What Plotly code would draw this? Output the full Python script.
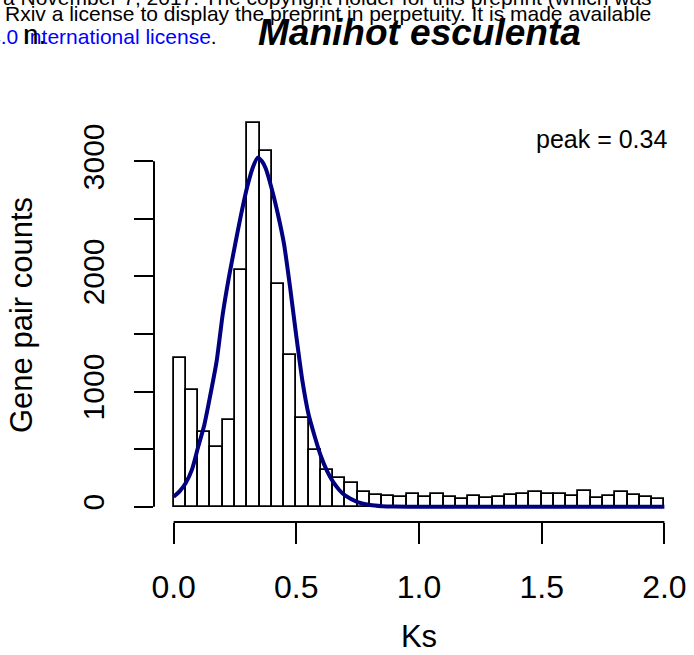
import plotly.graph_objects as go

# ---- data ----
bin_start = [0.00, 0.05, 0.10, 0.15, 0.20, 0.25, 0.30, 0.35, 0.40, 0.45,
             0.50, 0.55, 0.60, 0.65, 0.70, 0.75, 0.80, 0.85, 0.90, 0.95,
             1.00, 1.05, 1.10, 1.15, 1.20, 1.25, 1.30, 1.35, 1.40, 1.45,
             1.50, 1.55, 1.60, 1.65, 1.70, 1.75, 1.80, 1.85, 1.90, 1.95]
bin_width = 0.05
counts = [1292, 1017, 650, 517, 751, 2058, 3330, 3093, 1931, 1315,
          772, 491, 315, 245, 202, 130, 98, 90, 87, 107,
          83, 109, 87, 69, 92, 75, 87, 101, 113, 124,
          107, 107, 92, 135, 78, 92, 124, 98, 83, 69]

curve_x = [0.0, 0.025, 0.05, 0.075, 0.1, 0.125, 0.15, 0.175, 0.2, 0.225,
           0.25, 0.275, 0.3, 0.325, 0.343, 0.36, 0.375, 0.4, 0.425, 0.45,
           0.475, 0.5, 0.525, 0.55, 0.575, 0.6, 0.625, 0.65, 0.675, 0.7,
           0.75, 0.8, 0.85, 0.9, 1.0, 1.5, 2.0]
curve_y = [85, 135, 208, 324, 520, 710, 975, 1260, 1670, 1990,
           2270, 2540, 2780, 2960, 3032, 3000, 2940, 2760, 2540, 2280,
           1900, 1480, 1090, 800, 610, 440, 310, 215, 145, 95,
           40, 14, 4, 1, 0, 0, 0]

x_ticks = [0.0, 0.5, 1.0, 1.5, 2.0]
x_ticktext = ["0.0", "0.5", "1.0", "1.5", "2.0"]
y_ticks = [0, 500, 1000, 1500, 2000, 2500, 3000]
y_ticktext = ["0", "", "1000", "", "2000", "", "3000"]

title = "Manihot esculenta"
peak_label = "peak = 0.34"
header1 = "a November 7, 2017. The copyright holder for this preprint (which was"
header2 = "Rxiv a license to display the preprint in perpetuity. It is made available"
header3 = '<span style="color:#0000ff">4.0 International license</span>.'

# ---- layout geometry ----
W, H = 694, 655
ML, MR, MT, MB = 154, 10, 108, 133
PW, PH = W - ML - MR, H - MT - MB
FONT = "Liberation Sans, Arial, Helvetica, sans-serif"
HEAD = 21

xlo, xhi = 0.0, 2.0
xpad = 0.04 * (xhi - xlo)
xr = [xlo - xpad, xhi + xpad]
ymax = max(counts)
yr = [-0.04 * ymax, 1.04 * ymax]


def px(xpix):
    return (xpix - ML) / PW


def pyb(baseline, size):
    # paper y for the bottom of a text box whose baseline is at pixel `baseline`
    return (H - MB - (baseline + 0.32 * size)) / PH


def dx(v):
    return (v - xr[0]) / (xr[1] - xr[0])


def dy(v):
    return (v - yr[0]) / (yr[1] - yr[0])


centers = [b + bin_width / 2 for b in bin_start]

fig = go.Figure()
fig.add_trace(go.Bar(
    x=centers, y=counts, width=bin_width,
    marker=dict(color="white", line=dict(color="black", width=1.8)),
    showlegend=False, hoverinfo="skip"))
fig.add_trace(go.Scatter(
    x=curve_x, y=curve_y, mode="lines",
    line=dict(color="#000080", width=4, shape="spline", smoothing=0.6),
    showlegend=False, hoverinfo="skip"))

fig.update_xaxes(range=xr, showgrid=False, zeroline=False, showline=False,
                 tickmode="array", tickvals=x_ticks, ticktext=x_ticktext,
                 ticks="outside", ticklen=21, tickwidth=2, tickcolor="black",
                 tickfont=dict(family=FONT, size=32, color="black"),
                 ticklabelstandoff=16,
                 title=dict(text="Ks", font=dict(family=FONT, size=31, color="black"),
                            standoff=20))
fig.update_yaxes(range=yr, showgrid=False, zeroline=False, showline=False,
                 tickmode="array", tickvals=y_ticks, ticktext=y_ticktext,
                 ticks="outside", ticklen=19, tickwidth=2, tickcolor="black",
                 tickangle=-90, tickfont=dict(family=FONT, size=30, color="black"),
                 ticklabelstandoff=18,
                 title=dict(text="Gene pair counts",
                            font=dict(family=FONT, size=31, color="black"),
                            standoff=35))

shapes = [
    dict(type="line", xref="paper", yref="paper",
         x0=dx(x_ticks[0]), x1=dx(x_ticks[-1]), y0=0, y1=0,
         line=dict(color="black", width=2)),
    dict(type="line", xref="paper", yref="paper",
         x0=0, x1=0, y0=dy(y_ticks[0]), y1=dy(y_ticks[-1]),
         line=dict(color="black", width=2)),
]

annotations = [
    dict(text=header1, xref="paper", yref="paper", x=px(654), y=pyb(4, HEAD),
         xanchor="right", yanchor="bottom", showarrow=False,
         font=dict(family=FONT, size=HEAD, color="black")),
    dict(text=header2, xref="paper", yref="paper", x=px(653), y=pyb(20, HEAD),
         xanchor="right", yanchor="bottom", showarrow=False,
         font=dict(family=FONT, size=HEAD, color="black")),
    dict(text=header3, xref="paper", yref="paper", x=px(219), y=pyb(43, HEAD),
         xanchor="right", yanchor="bottom", showarrow=False,
         font=dict(family=FONT, size=HEAD, color="black")),
    dict(text="n.", xref="paper", yref="paper", x=px(21), y=pyb(43, 28),
         xanchor="left", yanchor="bottom", showarrow=False,
         font=dict(family=FONT, size=28, color="black")),
    dict(text="<b><i>" + title + "</i></b>", xref="paper", yref="paper",
         x=px(419), y=pyb(43, 37), xanchor="center", yanchor="bottom", showarrow=False,
         font=dict(family=FONT, size=37, color="black")),
    dict(text=peak_label, xref="paper", yref="paper", x=px(601), y=pyb(147, 25),
         xanchor="center", yanchor="bottom", showarrow=False,
         font=dict(family=FONT, size=25, color="black")),
]

fig.update_layout(
    width=W, height=H,
    margin=dict(l=ML, r=MR, t=MT, b=MB, autoexpand=False),
    plot_bgcolor="white", paper_bgcolor="white",
    shapes=shapes, annotations=annotations,
    font=dict(family=FONT, color="black"),
    bargap=0,
)

fig.write_html("out.html")
